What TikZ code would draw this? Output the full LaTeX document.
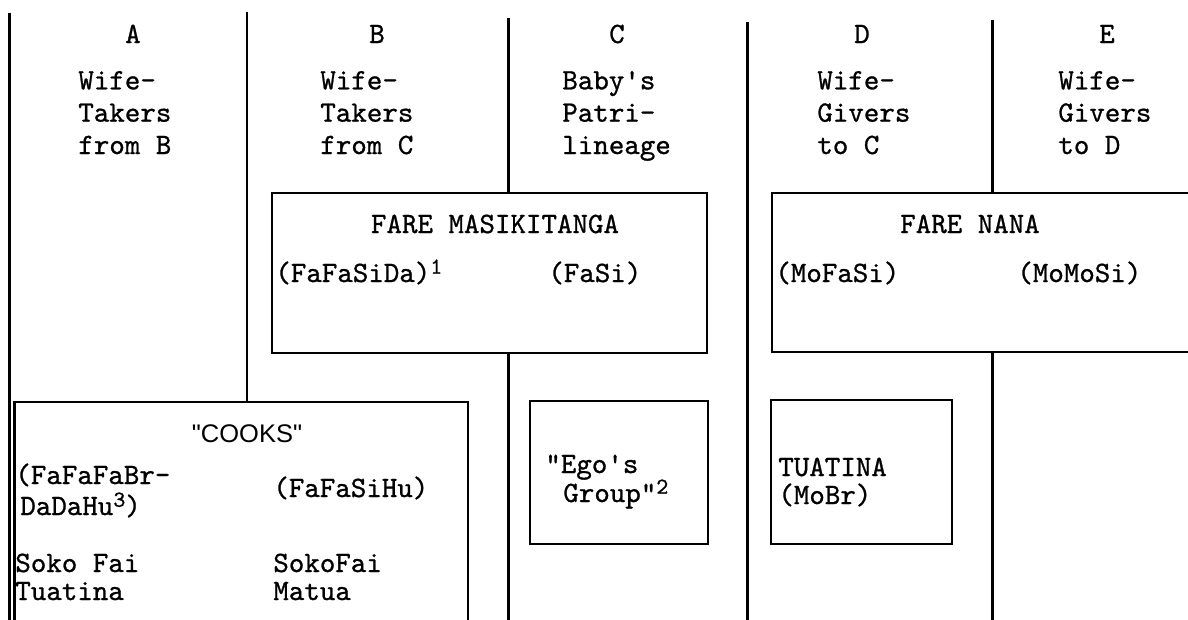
\documentclass[tikz,border=0pt]{standalone}
\usepackage{fontspec}
\setsansfont{Liberation Sans}
\newfontfamily\typeface{lmmono10-regular.otf}[FakeBold=0.9]
\usetikzlibrary{positioning}
\newcommand{\typew}{\typeface\fontsize{16.8}{18.4}\selectfont}
\newcommand{\supnum}[1]{\raisebox{0.65ex}{\fontsize{13}{13}\selectfont #1}}

\begin{document}
\begin{tikzpicture}[
    x=1cm,y=1cm,
    rule/.style  = {black, line width=1.7pt},
    box/.style   = {draw=black, fill=white, line width=1.5pt},
    col/.style   = {font=\typew, anchor=base, inner sep=0pt},
    hd/.style    = {font=\typew, align=left, anchor=base west, inner sep=0pt},
    txt/.style   = {font=\typew, anchor=base west, inner sep=0pt},
  ]
  \useasboundingbox (0,0) rectangle (23.76,-12.38);

  % Separateurs de colonnes
  \draw[rule] (0.19,-0.26) -- (0.19,-12.5);
  \draw[rule] (4.94,-0.24) -- (4.94,-8.04);
  \draw[rule] (10.16,-0.36) -- (10.16,-12.5);
  \draw[rule] (14.94,-0.44) -- (14.94,-12.5);
  \draw[rule] (19.84,-0.40) -- (19.84,-12.5);

  % En-tetes des colonnes (ancre sur la derniere ligne)
  \node[col] (lA) at (2.66,-0.86)  {A};
  \node[col] (lB) at (7.54,-0.86)  {B};
  \node[col] (lC) at (12.34,-0.86) {C};
  \node[col] (lD) at (17.24,-0.86) {D};
  \node[col] (lE) at (22.14,-0.86) {E};

  \node[hd] (hA) at (1.56,-3.08)  {Wife-\\Takers\\from B};
  \node[hd] (hB) at (6.40,-3.08)  {Wife-\\Takers\\from C};
  \node[hd] (hC) at (11.24,-3.08) {Baby's\\Patri-\\lineage};
  \node[hd] (hD) at (16.34,-3.08) {Wife-\\Givers\\to C};
  \node[hd] (hE) at (21.16,-3.08) {Wife-\\Givers\\to D};

  % Fare Masikitanga, a cheval sur B et C
  \draw[box] (5.44,-3.86) rectangle (14.14,-7.06);
  \node[col] (masi) at (9.90,-4.66) {FARE MASIKITANGA};
  \node[txt] (ffsd) at (5.50,-5.64) {(FaFaSiDa)\supnum{1}};
  \node[txt] (fasi) at (10.96,-5.64) {(FaSi)};

  % Fare Nana, ouvert a droite
  \draw[box] (24.0,-3.86) -| (15.44,-7.04) -- (24.0,-7.04);
  \node[col] (nana) at (19.40,-4.66) {FARE NANA};
  \node[txt] (mofs) at (15.50,-5.64) {(MoFaSi)};
  \node[txt] (moms) at (20.34,-5.64) {(MoMoSi)};

  % Les "cooks", ouvert en bas
  \draw[box] (0.29,-12.6) |- (9.36,-8.04) -- (9.36,-12.6);
  \node[font=\sffamily\fontsize{14.5}{16}\selectfont, anchor=base, inner sep=0pt]
       (cooks) at (4.94,-8.84) {\textquotedbl COOKS\textquotedbl};
  \node[txt] (ffbr) at (0.30,-9.68)  {(FaFaFaBr-};
  \node[txt] (ddhu) at (0.40,-10.30) {DaDaHu\supnum{3})};
  \node[txt] (ffsh) at (5.46,-9.94)  {(FaFaSiHu)};
  \node[txt] (sok1) at (0.30,-11.44) {Soko Fai};
  \node[txt] (tua1) at (0.30,-12.00) {Tuatina};
  \node[txt] (sok2) at (5.46,-11.44) {SokoFai};
  \node[txt] (mat)  at (5.46,-12.00) {Matua};

  % Ego et frere de la mere
  \draw[box] (10.60,-8.02) rectangle (14.16,-10.88);
  \node[txt] (ego)  at (10.90,-9.46)  {"Ego's};
  \node[txt] (grp)  at (11.26,-10.04) {Group"\supnum{2}};

  \draw[box] (15.42,-8.00) rectangle (19.04,-10.88);
  \node[txt] (tuat) at (15.56,-9.52)  {TUATINA};
  \node[txt] (mobr) at (15.56,-10.08) {(MoBr)};

\end{tikzpicture}
\end{document}
